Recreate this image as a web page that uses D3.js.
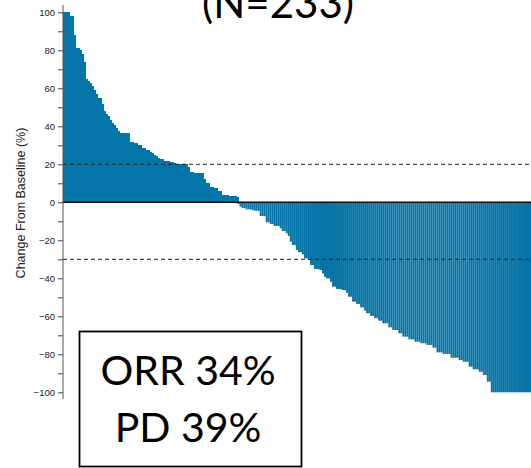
<!DOCTYPE html>
<html>
<head>
<meta charset="utf-8">
<script src="https://cdn.jsdelivr.net/npm/d3@7"></script>
<style>
  html, body { margin: 0; padding: 0; background: #fff; }
  svg { display: block; }
</style>
</head>
<body>
<svg id="chart" width="531" height="468"></svg>
<script>
// change from baseline (%) per patient, sorted best response last
const changeFromBaseline = [
  100, 100, 100, 98, 98, 88, 81, 81, 80, 78,
  74, 65, 64, 63, 61, 59, 57, 55, 55, 52,
  48, 46.5, 45.5, 43.5, 42, 40.5, 39, 37.5, 36.6, 36.3,
  36.3, 36.3, 36.3, 32, 32, 31, 31, 30, 30, 28.7,
  28.7, 27.5, 27.5, 26.3, 26, 24.9, 24.5, 23.5, 23, 22.6,
  22, 22, 21.8, 21, 21, 20.8, 20.3, 20.2, 20.2, 20.1,
  20, 20, 18.4, 16.1, 15.8, 15.6, 15.6, 15.5, 15.5, 15.4,
  12.1, 10.3, 10.3, 8.2, 8.2, 7.7, 7.5, 5.9, 5.8, 3.8,
  3.8, 3.6, 3.3, 3.3, 3.2, 3.2, 3.0,
  -0.9, -2.3, -3.0, -3.0, -3.7, -3.7, -3.8, -4.0, -4.4, -4.4,
  -4.5, -7.2, -7.2, -7.3, -10.5, -10.5, -11.4, -11.4, -12.5, -12.5,
  -12.5, -13.7, -15.1, -15.1, -16.3, -17.7, -20.7, -22.5, -22.5, -25.1,
  -26.3, -26.3, -27.4, -29.5, -29.5, -30.4, -33, -33, -35.1, -35.1,
  -35.3, -35.6, -37.4, -39.2, -40, -40, -41.8, -44.4, -44.4, -45.6,
  -45.6, -45.8, -46.2, -46.2, -47.6, -49.7, -49.7, -52.3, -52.3, -53.5,
  -53.5, -55.3, -55.3, -57, -58.4, -58.4, -59.8, -59.8, -61, -61,
  -62.3, -62.3, -63.7, -63.7, -63.7, -65.8, -65.8, -67.2, -67.2, -67.2,
  -68.9, -68.9, -70.7, -70.7, -70.7, -72.1, -72.1, -72.1, -73.4, -73.4,
  -73.4, -74.2, -74.2, -74.2, -75.1, -75.1, -75.1, -76.5, -76.5, -79,
  -79, -79, -79.8, -79.8, -79.8, -79.8, -81.8, -81.8, -81.8, -81.8,
  -83, -83, -83.9, -83.9, -83.9, -86.5, -86.5, -87.9, -87.9, -87.9,
  -89.2, -89.2, -90.9, -90.9, -94.4, -94.4,
  -100, -100, -100, -100, -100, -100, -100, -100, -100, -100,
  -100, -100, -100, -100, -100, -100, -100, -100, -100, -100
];
const yTicks = [-100, -80, -60, -40, -20, 0, 20, 40, 60, 80, 100];
const yMinorTicks = [-90, -70, -50, -30, -10, 10, 30, 50, 70, 90];
const refLines = [20, -30];
const titleText = "(N=233)";
const yLabel = "Change From Baseline (%)";
const boxLines = ["ORR 34%", "PD 39%"];

const svg = d3.select("#chart");
const barColor = "#0574a7";

const x = d3.scaleBand()
  .domain(d3.range(changeFromBaseline.length))
  .range([62.7, 531])
  .padding(0);
const y = d3.scaleLinear().domain([-100, 100]).range([392.3, 12.3]);

// bars: positive ones drawn crisp so they read solid, negative ones keep the thin seams
const step = x.bandwidth();
svg.append("g")
  .selectAll("rect")
  .data(changeFromBaseline)
  .join("rect")
  .attr("x", (d, i) => x(i))
  .attr("width", d => d >= 0 ? step + 1 : step)
  .attr("y", d => y(Math.max(0, d)))
  .attr("height", d => Math.abs(y(d) - y(0)))
  .attr("shape-rendering", d => d >= 0 ? "crispEdges" : "auto")
  .attr("fill", barColor);

// reference lines (dashed)
svg.append("g")
  .selectAll("line")
  .data(refLines)
  .join("line")
  .attr("x1", 63)
  .attr("x2", 531)
  .attr("y1", d => y(d))
  .attr("y2", d => y(d))
  .attr("stroke", "#222")
  .attr("stroke-width", 1)
  .attr("stroke-dasharray", "4,3");

// zero line
svg.append("line")
  .attr("x1", 63).attr("x2", 531)
  .attr("y1", y(0)).attr("y2", y(0))
  .attr("stroke", "#111")
  .attr("stroke-width", 1.5);

// y axis
const yAxis = svg.append("g")
  .attr("transform", "translate(63,0)")
  .call(d3.axisLeft(y).tickValues(yTicks).tickSize(5).tickSizeOuter(0).tickPadding(3));
yAxis.select(".domain").remove();
yAxis.selectAll("text")
  .attr("font-family", "Liberation Sans, Arial, sans-serif")
  .attr("font-size", 9.5)
  .attr("fill", "#222");
yAxis.selectAll(".tick line").attr("stroke", "#444");

const yMinor = svg.append("g")
  .attr("transform", "translate(63,0)")
  .call(d3.axisLeft(y).tickValues(yMinorTicks).tickSize(5).tickFormat(""));
yMinor.select(".domain").remove();
yMinor.selectAll(".tick line").attr("stroke", "#444");

svg.append("line")
  .attr("x1", 63).attr("x2", 63)
  .attr("y1", 5).attr("y2", 399)
  .attr("stroke", "#555")
  .attr("stroke-width", 1);

// y axis title
svg.append("text")
  .attr("transform", "translate(25,203) rotate(-90)")
  .attr("text-anchor", "middle")
  .attr("font-family", "Liberation Sans, Arial, sans-serif")
  .attr("font-size", 12.5)
  .attr("fill", "#222")
  .text(yLabel);

// title (cropped at top, as in the source)
svg.append("text")
  .attr("x", 278)
  .attr("y", 18)
  .attr("text-anchor", "middle")
  .attr("font-family", "Lato, Open Sans, sans-serif")
  .attr("font-size", 42)
  .attr("fill", "#000")
  .text(titleText);

// summary box
svg.append("rect")
  .attr("x", 79.5)
  .attr("y", 331.5)
  .attr("width", 222)
  .attr("height", 135)
  .attr("fill", "#fff")
  .attr("stroke", "#000")
  .attr("stroke-width", 1.8);

svg.append("g")
  .selectAll("text")
  .data(boxLines)
  .join("text")
  .attr("x", 188)
  .attr("y", (d, i) => 385 + i * 56.7)
  .attr("text-anchor", "middle")
  .attr("font-family", "Lato, Open Sans, sans-serif")
  .attr("font-size", 41)
  .attr("fill", "#000")
  .text(d => d);
</script>
</body>
</html>
